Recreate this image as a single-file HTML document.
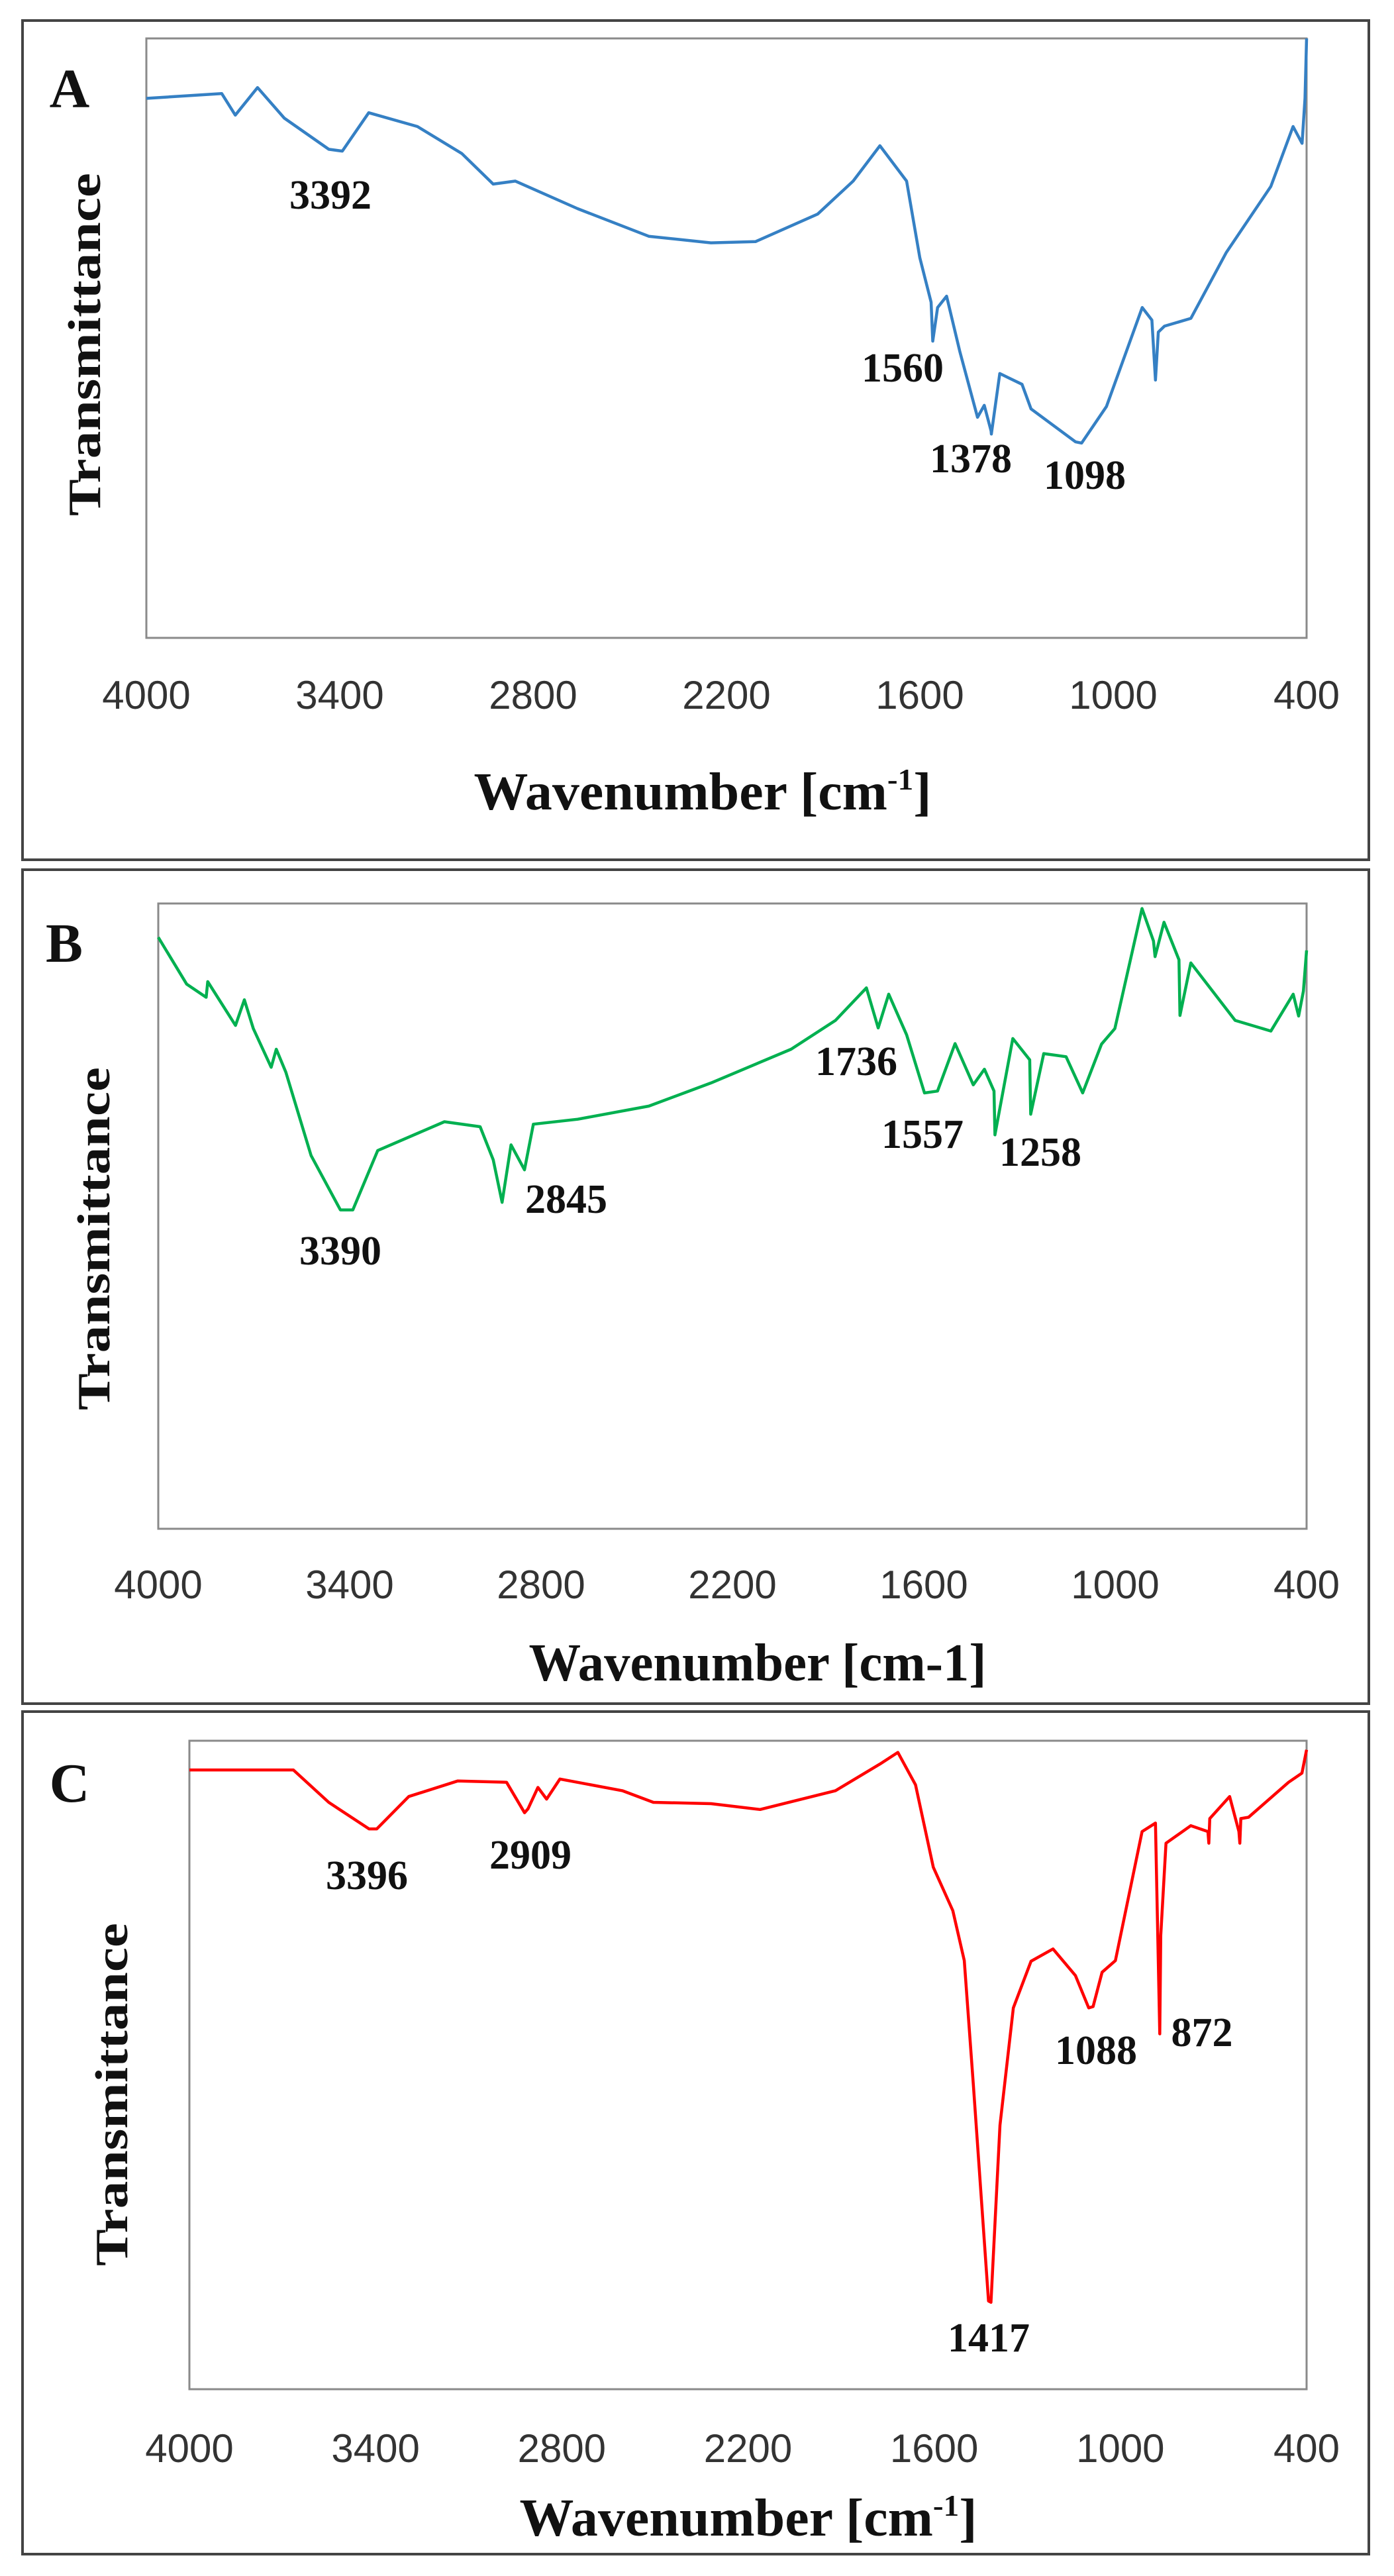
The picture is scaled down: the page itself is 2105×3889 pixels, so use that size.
<!DOCTYPE html>
<html>
<head>
<meta charset="utf-8">
<style>
html,body{margin:0;padding:0;background:#fff;}
svg{display:block;}
.tick{font-family:"Liberation Sans",sans-serif;font-size:60px;fill:#333;}
.ttl{font-family:"Liberation Serif",serif;font-weight:bold;fill:#111;}
.pk{font-family:"Liberation Serif",serif;font-weight:bold;font-size:62px;fill:#111;}
</style>
</head>
<body>
<svg id="fig" width="2105" height="3889" viewBox="0 0 2105 3889" xmlns="http://www.w3.org/2000/svg">
<rect x="0" y="0" width="2105" height="3889" fill="#fff"/>
</svg>
<script>
const tickLabels = [4000, 3400, 2800, 2200, 1600, 1000, 400];

const wnA = [4000,3766,3724,3655,3572,3434,3392,3310,3159,3021,2924,2855,2662,2441,2248,2110,1917,1807,1724,1641,1600,1565,1560,1545,1517,1476,1421,1400,1379,1378,1352,1283,1255,1117,1098,1021,910,880,869,860,841,759,649,511,442,414,405,400];
const tA   = [0.10,0.092,0.128,0.082,0.133,0.185,0.188,0.124,0.147,0.192,0.243,0.238,0.284,0.330,0.341,0.339,0.293,0.238,0.179,0.238,0.366,0.440,0.505,0.449,0.430,0.522,0.632,0.612,0.655,0.660,0.559,0.577,0.618,0.673,0.675,0.614,0.449,0.470,0.570,0.490,0.480,0.467,0.357,0.247,0.147,0.175,0.10,0.0];

const wnB = [4000,3911,3850,3845,3758,3730,3702,3646,3630,3600,3521,3429,3390,3312,3103,2991,2950,2922,2894,2852,2824,2685,2462,2267,2016,1877,1780,1743,1710,1654,1598,1557,1502,1445,1410,1380,1377,1321,1268,1265,1224,1154,1102,1043,1001,916,880,875,847,800,797,763,624,512,442,425,410,400];
const tB   = [0.054,0.129,0.150,0.125,0.195,0.154,0.200,0.262,0.233,0.270,0.403,0.490,0.490,0.395,0.349,0.357,0.410,0.478,0.386,0.426,0.353,0.345,0.324,0.287,0.233,0.187,0.135,0.199,0.145,0.210,0.303,0.300,0.224,0.290,0.265,0.300,0.370,0.216,0.250,0.337,0.240,0.245,0.303,0.225,0.200,0.008,0.060,0.085,0.030,0.090,0.179,0.095,0.187,0.204,0.145,0.180,0.140,0.075];

const wnC = [4000,3665,3551,3421,3396,3293,3135,2978,2920,2909,2877,2849,2806,2605,2505,2319,2161,1918,1775,1717,1660,1603,1540,1503,1474,1425,1417,1388,1345,1288,1217,1145,1102,1088,1059,1016,930,887,873,870,853,773,718,715,712,648,618,615,612,587,458,415,400];
const tC   = [0.045,0.045,0.095,0.136,0.136,0.086,0.062,0.064,0.111,0.105,0.072,0.090,0.059,0.077,0.095,0.097,0.106,0.077,0.036,0.018,0.068,0.195,0.262,0.339,0.529,0.864,0.866,0.593,0.412,0.340,0.321,0.362,0.412,0.410,0.357,0.339,0.140,0.127,0.452,0.300,0.158,0.131,0.140,0.158,0.120,0.086,0.140,0.158,0.120,0.118,0.064,0.050,0.014];

const panels = [
  {id:'a', letter:'A', box:[34,31,2033,1267], plot:[221,58,1973,963], tickY:1070, title:'Wavenumber [cm', sup:'-1', titleX:1061, titleY:1222,
   letterX:105, letterY:162, yTitleX:127, yTitleY:520, yTitleLen:518, wn:wnA, t:tA, color:'#3580c4',
   peaks:[['3392',499,315],['1560',1363,576],['1378',1466,713],['1098',1638,738]]},
  {id:'b', letter:'B', box:[34,1313,2033,1259], plot:[239,1364,1973,2308], tickY:2413, title:'Wavenumber [cm-1]', sup:null, titleX:1144, titleY:2537,
   letterX:97, letterY:1452, yTitleX:141, yTitleY:1870, yTitleLen:518, wn:wnB, t:tB, color:'#00b050',
   peaks:[['3390',514,1909],['2845',855,1831],['1736',1293,1623],['1557',1393,1733],['1258',1571,1760]]},
  {id:'c', letter:'C', box:[34,2584,2033,1272], plot:[286,2628,1973,3607], tickY:3717, title:'Wavenumber [cm', sup:'-1', titleX:1130, titleY:3828,
   letterX:105, letterY:2720, yTitleX:168, yTitleY:3162, yTitleLen:518, wn:wnC, t:tC, color:'#ff0000',
   peaks:[['3396',554,2852],['2909',801,2821],['1417',1493,3550],['1088',1655,3116],['872',1815,3089]]}
];

const NS='http://www.w3.org/2000/svg';
const svg=document.getElementById('fig');
function mk(tag, attrs, parent){
  const e=document.createElementNS(NS,tag);
  for(const k in attrs) e.setAttribute(k, attrs[k]);
  (parent||svg).appendChild(e);
  return e;
}

panels.forEach(p=>{
  const g=mk('g',{});
  
  
  const [x0,y0,x1,y1]=p.plot;
  const xs=wn=>x0+(4000-wn)/3600*(x1-x0);
  const ys=f=>y0+f*(y1-y0);

  const outer=mk('rect',{x:p.box[0],y:p.box[1],width:p.box[2],height:p.box[3],fill:'none',stroke:'#444','stroke-width':4},g);
  
  

  const pb=mk('rect',{x:x0,y:y0,width:x1-x0,height:y1-y0,fill:'#fff',stroke:'#8a8a8a','stroke-width':3},g);
  
  

  let d='';
  p.wn.forEach((w,i)=>{ d+=(i?'L':'M')+xs(w).toFixed(1)+','+ys(p.t[i]).toFixed(1); });
  const line=mk('path',{d:d,fill:'none',stroke:p.color,'stroke-width':4.5,'stroke-linejoin':'round'},g);
  
  

  tickLabels.forEach(v=>{
    const t=mk('text',{x:xs(v),y:p.tickY,'text-anchor':'middle',class:'tick'},g);
    t.textContent=String(v);
    
    
  });

  const tt=mk('text',{x:p.titleX,y:p.titleY,'text-anchor':'middle',class:'ttl','font-size':80,textLength:691,lengthAdjust:'spacingAndGlyphs'},g);
  
  
  tt.appendChild(document.createTextNode(p.title));
  if(p.sup){
    const s=mk('tspan',{dy:-30,'font-size':46},tt);
    s.textContent=p.sup;
    const s2=mk('tspan',{dy:30},tt);
    s2.textContent=']';
  }

  const lt=mk('text',{x:p.letterX,y:p.letterY,'text-anchor':'middle',class:'ttl','font-size':84},g);
  lt.textContent=p.letter;
  
  

  const yt=mk('text',{x:0,y:0,'text-anchor':'middle',class:'ttl','font-size':70,textLength:p.yTitleLen,lengthAdjust:'spacingAndGlyphs',
     transform:'translate('+(p.yTitleX+24)+','+p.yTitleY+') rotate(-90)'},g);
  yt.textContent='Transmittance';
  
  

  p.peaks.forEach(pk=>{
    const t=mk('text',{x:pk[1],y:pk[2],'text-anchor':'middle',class:'pk'},g);
    t.textContent=pk[0];
    
    
  });
});
</script>
</body>
</html>
